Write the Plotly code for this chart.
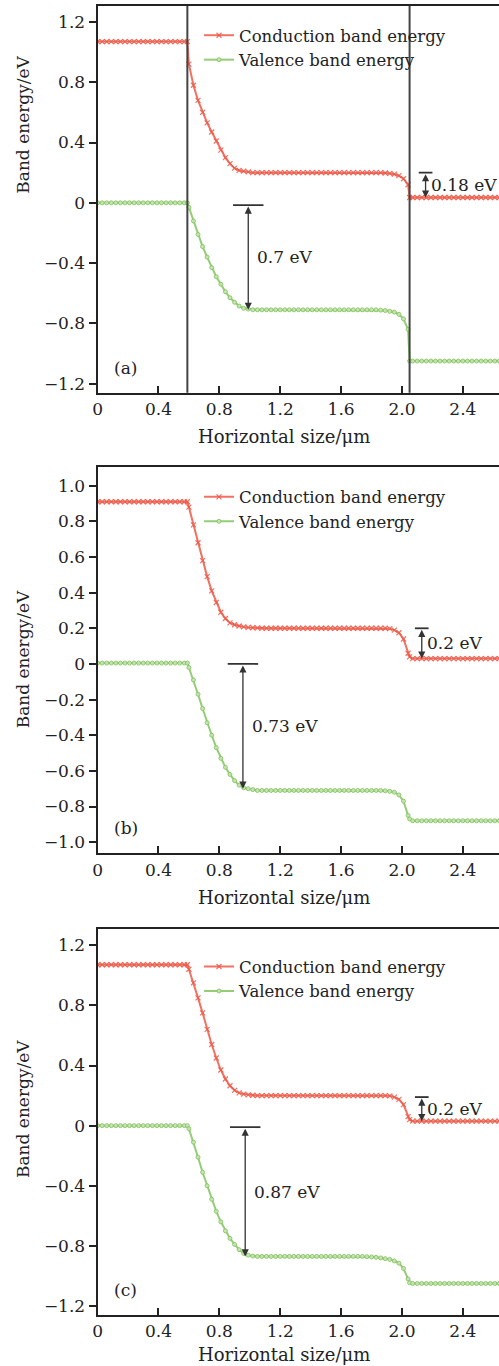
import plotly.graph_objects as go

# ---------------- data ----------------
X = [
    0.00, 0.03, 0.06, 0.09, 0.12, 0.15, 0.18, 0.21, 0.24, 0.27,
    0.30, 0.33, 0.36, 0.39, 0.42, 0.45, 0.48, 0.51, 0.54, 0.57,
    0.59, 0.60, 0.63, 0.66, 0.69, 0.72, 0.75, 0.78, 0.81, 0.84,
    0.87, 0.90, 0.93, 0.96, 0.99, 1.02, 1.05, 1.08, 1.11, 1.14,
    1.17, 1.20, 1.23, 1.26, 1.29, 1.32, 1.35, 1.38, 1.41, 1.44,
    1.47, 1.50, 1.53, 1.56, 1.59, 1.62, 1.65, 1.68, 1.71, 1.74,
    1.77, 1.80, 1.83, 1.86, 1.89, 1.92, 1.95, 1.98, 2.01, 2.04,
    2.05, 2.07, 2.10, 2.13, 2.16, 2.19, 2.22, 2.25, 2.28, 2.31,
    2.34, 2.37, 2.40, 2.43, 2.46, 2.49, 2.52, 2.55, 2.58, 2.61,
    2.64,
]

CB_A = [
    1.07, 1.07, 1.07, 1.07, 1.07, 1.07, 1.07, 1.07, 1.07, 1.07,
    1.07, 1.07, 1.07, 1.07, 1.07, 1.07, 1.07, 1.07, 1.07, 1.07,
    1.07, 0.92, 0.78, 0.68, 0.60, 0.53, 0.47, 0.41, 0.35, 0.30,
    0.26, 0.23, 0.215, 0.21, 0.205, 0.20, 0.20, 0.20, 0.20, 0.20,
    0.20, 0.20, 0.20, 0.20, 0.20, 0.20, 0.20, 0.20, 0.20, 0.20,
    0.20, 0.20, 0.20, 0.20, 0.20, 0.20, 0.20, 0.20, 0.20, 0.20,
    0.20, 0.20, 0.20, 0.20, 0.198, 0.195, 0.19, 0.18, 0.16, 0.12,
    0.035, 0.035, 0.035, 0.035, 0.035, 0.035, 0.035, 0.035, 0.035, 0.035,
    0.035, 0.035, 0.035, 0.035, 0.035, 0.035, 0.035, 0.035, 0.035, 0.035,
    0.035,
]
VB_A = [
    0.0, 0.0, 0.0, 0.0, 0.0, 0.0, 0.0, 0.0, 0.0, 0.0,
    0.0, 0.0, 0.0, 0.0, 0.0, 0.0, 0.0, 0.0, 0.0, 0.0,
    0.0, -0.03, -0.12, -0.21, -0.29, -0.36, -0.43, -0.49, -0.54, -0.59,
    -0.63, -0.66, -0.685, -0.70, -0.705, -0.71, -0.71, -0.71, -0.71, -0.71,
    -0.71, -0.71, -0.71, -0.71, -0.71, -0.71, -0.71, -0.71, -0.71, -0.71,
    -0.71, -0.71, -0.71, -0.71, -0.71, -0.71, -0.71, -0.71, -0.71, -0.71,
    -0.71, -0.71, -0.71, -0.712, -0.715, -0.72, -0.725, -0.74, -0.77, -0.84,
    -1.05, -1.05, -1.05, -1.05, -1.05, -1.05, -1.05, -1.05, -1.05, -1.05,
    -1.05, -1.05, -1.05, -1.05, -1.05, -1.05, -1.05, -1.05, -1.05, -1.05,
    -1.05,
]

CB_B = [
    0.91, 0.91, 0.91, 0.91, 0.91, 0.91, 0.91, 0.91, 0.91, 0.91,
    0.91, 0.91, 0.91, 0.91, 0.91, 0.91, 0.91, 0.91, 0.91, 0.91,
    0.91, 0.88, 0.78, 0.68, 0.58, 0.49, 0.41, 0.345, 0.29, 0.255,
    0.23, 0.22, 0.213, 0.208, 0.205, 0.203, 0.202, 0.20, 0.20, 0.20,
    0.20, 0.20, 0.20, 0.20, 0.20, 0.20, 0.20, 0.20, 0.20, 0.20,
    0.20, 0.20, 0.20, 0.20, 0.20, 0.20, 0.20, 0.20, 0.20, 0.20,
    0.20, 0.20, 0.20, 0.20, 0.20, 0.198, 0.19, 0.175, 0.14, 0.06,
    0.04, 0.03, 0.03, 0.03, 0.03, 0.03, 0.03, 0.03, 0.03, 0.03,
    0.03, 0.03, 0.03, 0.03, 0.03, 0.03, 0.03, 0.03, 0.03, 0.03,
    0.03,
]
VB_B = [
    0.005, 0.005, 0.005, 0.005, 0.005, 0.005, 0.005, 0.005, 0.005, 0.005,
    0.005, 0.005, 0.005, 0.005, 0.005, 0.005, 0.005, 0.005, 0.005, 0.005,
    0.005, -0.02, -0.09, -0.17, -0.25, -0.33, -0.40, -0.47, -0.53, -0.58,
    -0.62, -0.655, -0.68, -0.695, -0.70, -0.705, -0.71, -0.71, -0.71, -0.71,
    -0.71, -0.71, -0.71, -0.71, -0.71, -0.71, -0.71, -0.71, -0.71, -0.71,
    -0.71, -0.71, -0.71, -0.71, -0.71, -0.71, -0.71, -0.71, -0.71, -0.71,
    -0.71, -0.71, -0.71, -0.71, -0.712, -0.715, -0.72, -0.735, -0.77, -0.85,
    -0.87, -0.88, -0.88, -0.88, -0.88, -0.88, -0.88, -0.88, -0.88, -0.88,
    -0.88, -0.88, -0.88, -0.88, -0.88, -0.88, -0.88, -0.88, -0.88, -0.88,
    -0.88,
]

CB_C = [
    1.07, 1.07, 1.07, 1.07, 1.07, 1.07, 1.07, 1.07, 1.07, 1.07,
    1.07, 1.07, 1.07, 1.07, 1.07, 1.07, 1.07, 1.07, 1.07, 1.07,
    1.07, 1.04, 0.95, 0.85, 0.75, 0.64, 0.54, 0.45, 0.37, 0.31,
    0.265, 0.235, 0.218, 0.21, 0.205, 0.202, 0.20, 0.20, 0.20, 0.20,
    0.20, 0.20, 0.20, 0.20, 0.20, 0.20, 0.20, 0.20, 0.20, 0.20,
    0.20, 0.20, 0.20, 0.20, 0.20, 0.20, 0.20, 0.20, 0.20, 0.20,
    0.20, 0.20, 0.20, 0.20, 0.20, 0.198, 0.19, 0.175, 0.14, 0.06,
    0.04, 0.03, 0.03, 0.03, 0.03, 0.03, 0.03, 0.03, 0.03, 0.03,
    0.03, 0.03, 0.03, 0.03, 0.03, 0.03, 0.03, 0.03, 0.03, 0.03,
    0.03,
]
VB_C = [
    0.0, 0.0, 0.0, 0.0, 0.0, 0.0, 0.0, 0.0, 0.0, 0.0,
    0.0, 0.0, 0.0, 0.0, 0.0, 0.0, 0.0, 0.0, 0.0, 0.0,
    0.0, -0.02, -0.11, -0.21, -0.31, -0.40, -0.49, -0.57, -0.64, -0.70,
    -0.75, -0.79, -0.825, -0.85, -0.862, -0.868, -0.87, -0.87, -0.87, -0.87,
    -0.87, -0.87, -0.87, -0.87, -0.87, -0.87, -0.87, -0.87, -0.87, -0.87,
    -0.87, -0.87, -0.87, -0.87, -0.87, -0.87, -0.87, -0.87, -0.87, -0.87,
    -0.872, -0.874, -0.876, -0.88, -0.885, -0.89, -0.90, -0.915, -0.95, -1.02,
    -1.045, -1.05, -1.05, -1.05, -1.05, -1.05, -1.05, -1.05, -1.05, -1.05,
    -1.05, -1.05, -1.05, -1.05, -1.05, -1.05, -1.05, -1.05, -1.05, -1.05,
    -1.05,
]

SERIES_NAMES = ["Conduction band energy", "Valence band energy"]
PANEL_LABELS = ["(a)", "(b)", "(c)"]

X_TICKS = [0, 0.4, 0.8, 1.2, 1.6, 2.0, 2.4]
X_TICK_TEXT = ["0", "0.4", "0.8", "1.2", "1.6", "2.0", "2.4"]
Y_TICKS_AC = [1.2, 0.8, 0.4, 0, -0.4, -0.8, -1.2]
Y_TICK_TEXT_AC = ["1.2", "0.8", "0.4", "0", "\u22120.4", "\u22120.8", "\u22121.2"]
Y_TICKS_B = [1.0, 0.8, 0.6, 0.4, 0.2, 0, -0.2, -0.4, -0.6, -0.8, -1.0]
Y_TICK_TEXT_B = ["1.0", "0.8", "0.6", "0.4", "0.2", "0", "\u22120.2", "\u22120.4",
                 "\u22120.6", "\u22120.8", "\u22121.0"]

# interface positions (panel a only)
INTERFACES_A = [0.59, 2.05]

# band-gap / offset markers per panel: x, top, bottom, label
GAP_X = [[0.99, 2.155], [0.955, 2.13], [0.97, 2.13]]
GAP_TOP = [[-0.015, 0.20], [0.0, 0.20], [-0.01, 0.19]]
GAP_BOTTOM = [[-0.71, 0.035], [-0.70, 0.03], [-0.87, 0.03]]
GAP_LABEL = [["0.7 eV", "0.18 eV"], ["0.73 eV", "0.2 eV"], ["0.87 eV", "0.2 eV"]]

# ---------------- styling ----------------
W, H = 499, 1366
FONT = "DejaVu Serif"
FS = 17
FS_LEG = 16.5
TXT = "#222"
RED = "rgba(238,88,70,0.85)"
GREEN = "rgba(130,195,95,0.85)"

# pixel geometry of the three panels (top, bottom)
PANEL_PX = [(6, 393), (467, 854), (930, 1316)]
Y_RANGES = [(-1.26, 1.306), (-1.063, 1.107), (-1.26, 1.306)]
XTITLE_PX = [437, 898, 1355]
YTITLE_PX = [125, 660, 1110]
LEGEND_TOP_PX = [18, 480, 950]
LEFT_PX = 93.5
X_RANGE = (0, (W - LEFT_PX) / 153.75)

def py(p):
    return (H - p) / H

fig = go.Figure()
CB = [CB_A, CB_B, CB_C]
VB = [VB_A, VB_B, VB_C]
legend_names = ["legend", "legend2", "legend3"]

for i in range(3):
    xa = "x" if i == 0 else f"x{i+1}"
    ya = "y" if i == 0 else f"y{i+1}"
    fig.add_trace(go.Scatter(
        x=X, y=CB[i], xaxis=xa, yaxis=ya, mode="lines+markers",
        name=SERIES_NAMES[0], legend=legend_names[i],
        line=dict(color=RED, width=2),
        marker=dict(symbol="x-thin", size=5, color=RED, line=dict(color=RED, width=1.2)),
    ))
    fig.add_trace(go.Scatter(
        x=X, y=VB[i], xaxis=xa, yaxis=ya, mode="lines+markers",
        name=SERIES_NAMES[1], legend=legend_names[i],
        line=dict(color=GREEN, width=2),
        marker=dict(symbol="circle", size=4, color="rgba(200,230,180,0.9)",
                    line=dict(color=GREEN, width=1)),
    ))

layout = dict(
    width=W, height=H,
    margin=dict(l=0, r=0, t=0, b=0),
    paper_bgcolor="white", plot_bgcolor="white",
    font=dict(family=FONT, size=FS, color=TXT),
    showlegend=True,
)

annotations = []
shapes = []
for i in range(3):
    sfx = "" if i == 0 else str(i + 1)
    top, bot = PANEL_PX[i]
    yticks = Y_TICKS_B if i == 1 else Y_TICKS_AC
    ytext = Y_TICK_TEXT_B if i == 1 else Y_TICK_TEXT_AC
    layout["xaxis" + sfx] = dict(
        domain=[LEFT_PX / W, 1.0], range=list(X_RANGE), anchor="y" + sfx,
        tickvals=X_TICKS, ticktext=X_TICK_TEXT, ticks="inside", ticklen=7,
        tickwidth=1.5, tickcolor=TXT, showline=True, linecolor=TXT,
        linewidth=2, mirror=True, showgrid=False, zeroline=False,
        tickfont=dict(family=FONT, size=FS, color=TXT),
    )
    layout["yaxis" + sfx] = dict(
        domain=[py(bot), py(top)], range=list(Y_RANGES[i]), anchor="x" + sfx,
        tickvals=yticks, ticktext=ytext, ticks="outside", ticklen=7,
        tickwidth=1.5, tickcolor=TXT, showline=True, linecolor=TXT,
        linewidth=2, showgrid=False, zeroline=False,
        tickfont=dict(family=FONT, size=FS, color=TXT),
    )
    layout[legend_names[i]] = dict(
        x=196 / W, y=py(LEGEND_TOP_PX[i]), xanchor="left", yanchor="top",
        bgcolor="rgba(0,0,0,0)", borderwidth=0,
        font=dict(family=FONT, size=FS_LEG, color=TXT),
        itemwidth=30, tracegroupgap=0,
    )
    # axis titles
    annotations.append(dict(
        text="Horizontal size/\u03bcm", xref="paper", yref="paper",
        x=282 / W, y=py(XTITLE_PX[i]), xanchor="center", yanchor="middle",
        showarrow=False, font=dict(family=FONT, size=18, color=TXT),
    ))
    annotations.append(dict(
        text="Band energy/eV", xref="paper", yref="paper", textangle=-90,
        x=18 / W, y=py(YTITLE_PX[i]), xanchor="center", yanchor="middle",
        showarrow=False, font=dict(family=FONT, size=FS, color=TXT),
    ))
    # panel label
    annotations.append(dict(
        text=PANEL_LABELS[i], xref="x" + sfx + " domain", yref="y" + sfx + " domain",
        x=0.035, y=0.065, xanchor="left", yanchor="middle", showarrow=False,
        font=dict(family=FONT, size=FS, color=TXT),
    ))
    # gap markers
    for gx, gt, gb, gl in zip(GAP_X[i], GAP_TOP[i], GAP_BOTTOM[i], GAP_LABEL[i]):
        big = abs(gt - gb) > 0.4
        hw = 0.1 if big else 0.045
        annotations.append(dict(
            x=gx, y=gb, ax=gx, ay=gt, xref="x" + sfx, yref="y" + sfx,
            axref="x" + sfx, ayref="y" + sfx, text="", showarrow=True,
            arrowhead=2, arrowside="end+start", arrowsize=1.1, arrowwidth=1.3,
            arrowcolor="#333",
        ))
        shapes.append(dict(
            type="line", xref="x" + sfx, yref="y" + sfx,
            x0=gx - hw, x1=gx + hw, y0=gt, y1=gt,
            line=dict(color="#333", width=1.8),
        ))
        annotations.append(dict(
            text=gl, x=gx, y=(gt + gb) / 2, xref="x" + sfx, yref="y" + sfx,
            xanchor="left", yanchor="middle", xshift=7 if big else 3,
            showarrow=False, font=dict(family=FONT, size=FS, color=TXT),
        ))

for xv in INTERFACES_A:
    shapes.append(dict(
        type="line", xref="x", yref="y domain", x0=xv, x1=xv, y0=0, y1=1,
        line=dict(color="#444", width=2),
    ))

layout["annotations"] = annotations
layout["shapes"] = shapes
fig.update_layout(**layout)
fig.write_html("out.html")
